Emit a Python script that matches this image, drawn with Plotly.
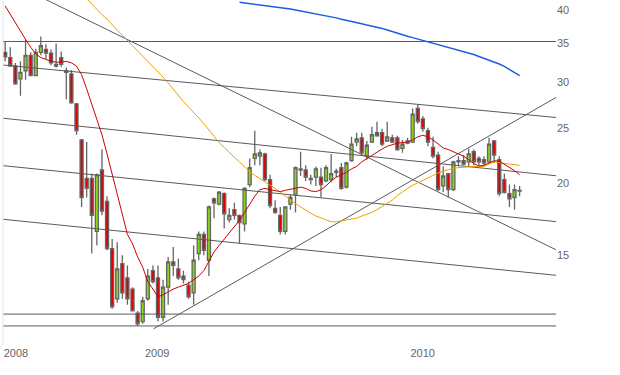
import math
import pandas as pd
import plotly.graph_objects as go

# ---------------- data (weekly candles) ----------------
start_date = "2008-06-23"
n_weeks = 102

opens = [33.8, 33.1, 32.0, 30.4, 31.4, 33.4, 30.8, 33.8, 34.2, 33.7,
         32.2, 33.1, 31.4, 31.0, 27.5, 23.8, 20.4, 20.4, 16.5, 21.1,
         18.6, 15.4, 12.6, 14.5, 13.7, 13.1, 11.9, 11.5, 12.6, 14.1,
         13.7, 11.7, 13.2, 14.6, 14.2, 13.8, 13.3, 12.9, 15.1, 16.3,
         14.7, 18.8, 18.4, 19.2, 17.3, 18.0, 17.6, 17.0, 19.9, 22.1,
         22.3, 22.5, 20.3, 18.1, 17.6, 16.5, 18.4, 19.1, 21.1, 21.1,
         20.4, 20.5, 20.5, 20.2, 20.3, 21.0, 21.3, 19.7, 21.9, 23.6,
         24.0, 22.3, 23.6, 24.5, 24.5, 23.7, 24.0, 24.0, 23.0, 23.7,
         23.6, 27.0, 25.9, 24.7, 23.1, 22.4, 19.8, 20.8, 19.5, 21.8,
         21.9, 21.8, 22.7, 22.1, 22.0, 21.8, 23.7, 22.0, 20.3, 19.2,
         18.9, 19.4]
highs = [35.3, 34.5, 32.4, 32.6, 35.6, 33.8, 34.3, 36.0, 34.9, 34.2,
         35.0, 33.9, 31.8, 31.5, 27.6, 23.9, 23.6, 20.8, 20.8, 22.9,
         19.0, 16.0, 15.8, 15.0, 14.4, 13.2, 12.0, 12.7, 14.2, 14.4,
         14.4, 13.6, 14.9, 15.5, 14.8, 14.1, 13.5, 15.6, 16.5, 16.5,
         18.3, 18.9, 19.4, 19.3, 18.1, 18.5, 17.65, 19.7, 22.1, 24.7,
         22.9, 22.6, 20.7, 18.7, 18.2, 18.25, 19.1, 21.4, 22.7, 21.5,
         20.7, 21.4, 21.3, 21.5, 22.5, 21.2, 21.7, 21.8, 24.1, 24.5,
         24.5, 23.7, 25.1, 25.6, 24.9, 25.6, 24.3, 24.2, 23.8, 24.0,
         27.0, 27.4, 26.2, 25.0, 24.1, 22.7, 21.4, 20.85, 21.9, 22.3,
         22.4, 23.0, 22.9, 22.3, 22.3, 24.0, 23.8, 22.3, 20.8, 19.9,
         19.9, 19.8]
lows = [32.6, 31.9, 29.7, 28.4, 30.3, 30.7, 30.7, 33.4, 32.9, 32.1,
        31.8, 31.9, 28.0, 27.5, 24.3, 18.2, 18.9, 15.1, 15.6, 17.6,
        15.3, 12.1, 12.4, 12.6, 12.3, 12.0, 11.3, 11.4, 12.5, 13.4,
        11.5, 11.5, 12.3, 13.8, 13.6, 13.4, 12.6, 12.3, 14.7, 15.0,
        13.8, 17.4, 18.3, 16.7, 17.1, 17.3, 15.7, 16.5, 19.7, 21.5,
        21.5, 20.2, 18.1, 17.7, 16.3, 16.3, 18.0, 17.8, 20.6, 20.2,
        19.9, 19.8, 18.9, 20.1, 20.1, 20.5, 19.5, 19.6, 21.8, 23.2,
        22.4, 22.0, 23.5, 24.1, 23.2, 23.6, 23.5, 22.8, 22.6, 23.4,
        23.5, 25.4, 24.6, 23.2, 22.1, 19.4, 19.3, 18.9, 19.4, 21.4,
        21.5, 21.4, 21.5, 21.5, 21.5, 21.7, 21.7, 19.0, 19.2, 18.2,
        18.0, 19.0]
closes = [33.2, 32.0, 29.8, 31.2, 33.4, 30.8, 33.8, 34.7, 33.7, 32.4,
          32.0, 32.2, 31.2, 27.6, 24.7, 18.9, 19.6, 17.6, 20.7, 17.9,
          15.4, 12.2, 14.2, 12.9, 12.6, 12.0, 11.4, 12.5, 13.8, 13.5,
          11.7, 13.2, 14.6, 14.4, 13.7, 13.6, 12.7, 14.7, 16.3, 15.3,
          18.2, 18.5, 19.3, 17.7, 17.6, 17.6, 17.1, 19.6, 21.3, 22.5,
          22.6, 20.3, 18.3, 17.8, 16.5, 18.2, 18.9, 21.3, 21.2, 20.5,
          20.3, 21.2, 19.9, 21.3, 20.8, 20.9, 19.6, 21.7, 23.4, 23.9,
          22.6, 23.3, 24.3, 24.2, 23.4, 24.1, 23.6, 22.9, 23.4, 23.5,
          26.4, 25.6, 24.9, 23.6, 22.3, 19.5, 20.6, 19.5, 21.8, 21.9,
          21.6, 22.5, 21.8, 21.8, 21.7, 23.4, 22.4, 19.2, 19.3, 18.8,
          19.5, 19.45]

# short moving average (red), one value per week from the first week
ma_short = [40.7, 39.3, 38.0, 36.8, 35.6, 34.5, 33.6, 33.1, 32.8, 32.6,
            32.5, 32.5, 32.6, 32.4, 32.0, 30.9, 29.2, 27.4, 25.8, 24.3,
            22.5, 20.7, 19.1, 17.6, 16.3, 15.7, 14.9, 14.3, 13.5, 13.1,
            12.7, 12.8, 12.95, 13.1, 13.2, 13.3, 13.4, 13.6, 13.8, 14.1,
            14.6, 15.2, 15.6, 16.0, 16.4, 16.8, 17.25, 17.8, 18.4, 19.0,
            19.5, 19.6, 19.5, 19.4, 19.35, 19.45, 19.55, 19.6, 19.7, 19.6,
            19.4, 19.35, 19.5, 19.8, 20.2, 20.5, 20.7, 20.9, 21.2, 21.4,
            21.8, 22.1, 22.35, 22.7, 22.95, 23.2, 23.35, 23.5, 23.55, 23.6,
            23.8, 24.1, 24.25, 24.1, 23.8, 23.4, 23.05, 22.9, 22.7, 22.5,
            22.3, 22.0, 21.65, 21.45, 21.5, 21.7, 21.9, 21.85, 21.6, 21.3,
            21.05, 20.7]

# medium moving average (orange), starts at week 16
ma_mid_start = 16
ma_mid = [41.9, 41.0, 40.15, 39.3, 38.6, 37.7, 36.95, 36.2, 35.45, 34.7,
          34.0, 33.3, 32.65, 32.0, 31.35, 30.6, 29.9, 29.15, 28.4, 27.75,
          27.15, 26.6, 26.0, 25.4, 24.75, 24.1, 23.55, 23.1, 22.6, 22.2,
          21.8, 21.35, 20.95, 20.65, 20.4, 20.15, 19.9, 19.6, 19.3, 19.0,
          18.7, 18.45, 18.2, 17.95, 17.75, 17.55, 17.4, 17.25, 17.15, 17.15,
          17.2, 17.25, 17.3, 17.4, 17.55, 17.65, 17.8, 18.0, 18.25, 18.45,
          18.7, 19.05, 19.35, 19.6, 19.85, 20.05, 20.25, 20.45, 20.65, 20.85,
          21.0, 21.15, 21.25, 21.3, 21.35, 21.4, 21.4, 21.4, 21.4, 21.6,
          21.8, 21.75, 21.65, 21.6, 21.55, 21.5]

# long moving average (blue), starts at week 46
ma_long_start = 46
ma_long = [41.3, 41.2, 41.1, 41.0, 40.9, 40.75, 40.65, 40.55, 40.4, 40.3,
           40.2, 40.05, 39.9, 39.8, 39.65, 39.5, 39.35, 39.2, 39.0, 38.8,
           38.6, 38.45, 38.25, 38.1, 37.9, 37.7, 37.55, 37.4, 37.2, 36.95,
           36.7, 36.5, 36.25, 36.05, 35.85, 35.65, 35.45, 35.25, 35.05, 34.9,
           34.7, 34.5, 34.35, 34.15, 33.95, 33.75, 33.5, 33.25, 33.0, 32.8,
           32.55, 32.25, 31.95, 31.55, 31.15, 30.8]

# drawn trend lines: (start date, end date, start value, end value)
trend_dates = [("2008-08-18", "2010-07-20"),
               ("2008-06-20", "2010-07-20"),
               ("2008-06-20", "2010-07-20"),
               ("2008-06-20", "2010-07-20"),
               ("2008-06-20", "2010-07-20"),
               ("2009-01-13", "2010-07-20")]
trend_values = [(41.75, 15.33),
                (32.13, 26.04),
                (25.96, 20.62),
                (21.47, 17.16),
                (17.32, 13.84),
                (11.17, 28.21)]

# horizontal support / resistance levels
levels = [35.3, 11.85, 11.30]

y_ticks = [15, 20, 25, 30, 35, 40]
x_tick_dates = ["2008-06-21", "2009-01-01", "2010-01-01"]
x_tick_text = ["2008", "2009", "2010"]

x_range = ["2008-06-20", "2010-07-20"]
y_range_vals = [10.47, 41.68]

# ---------------- figure ----------------
dates = pd.date_range(start_date, periods=n_weeks, freq="7D")

fig = go.Figure()

line_grey = "#5a5a5a"

for v in levels:
    fig.add_trace(go.Scatter(x=x_range, y=[v, v], mode="lines",
                             line=dict(color=line_grey, width=1),
                             hoverinfo="skip", showlegend=False))

for (d0, d1), (v0, v1) in zip(trend_dates, trend_values):
    fig.add_trace(go.Scatter(x=[d0, d1], y=[v0, v1], mode="lines",
                             line=dict(color=line_grey, width=1),
                             hoverinfo="skip", showlegend=False))

fig.add_trace(go.Scatter(x=dates[ma_long_start:ma_long_start + len(ma_long)], y=ma_long,
                         mode="lines", line=dict(color="#1a5fe0", width=1.5),
                         hoverinfo="skip", showlegend=False))
fig.add_trace(go.Scatter(x=dates[ma_mid_start:ma_mid_start + len(ma_mid)], y=ma_mid,
                         mode="lines", line=dict(color="#f0a000", width=1),
                         hoverinfo="skip", showlegend=False))
fig.add_trace(go.Scatter(x=dates[:len(ma_short)], y=ma_short,
                         mode="lines", line=dict(color="#d00000", width=1),
                         hoverinfo="skip", showlegend=False))

fig.add_trace(go.Candlestick(
    x=dates, open=opens, high=highs, low=lows, close=closes,
    increasing=dict(fillcolor="#86d61a", line=dict(color="#666666", width=1.3)),
    decreasing=dict(fillcolor="#e00000", line=dict(color="#666666", width=1.3)),
    whiskerwidth=0, showlegend=False, hoverinfo="skip"))

fig.update_layout(
    width=620, height=375, autosize=False,
    margin=dict(l=3, r=64, t=0, b=30),
    paper_bgcolor="white", plot_bgcolor="white",
    font=dict(family="Liberation Sans, Arial, sans-serif", size=11, color="#666666"),
    showlegend=False,
    boxgap=0.15,
    shapes=[dict(type="line", xref="paper", yref="paper", x0=0, x1=0, y0=0, y1=1,
                 line=dict(color="#e6e6e6", width=1))],
)
fig.update_xaxes(type="date", range=x_range, rangeslider=dict(visible=False),
                 showgrid=False, zeroline=False, showline=False, ticks="",
                 tickvals=x_tick_dates, ticktext=x_tick_text,
                 ticklabelposition="outside right")
fig.update_yaxes(type="log", side="right",
                 range=[math.log10(y_range_vals[0]), math.log10(y_range_vals[1])],
                 showgrid=False, zeroline=False, showline=False, ticks="",
                 tickvals=y_ticks, ticktext=[str(t) for t in y_ticks])

fig.write_html("out.html", config={"displayModeBar": False},
               post_script="document.body.style.margin='0';document.body.style.overflow='hidden';")
